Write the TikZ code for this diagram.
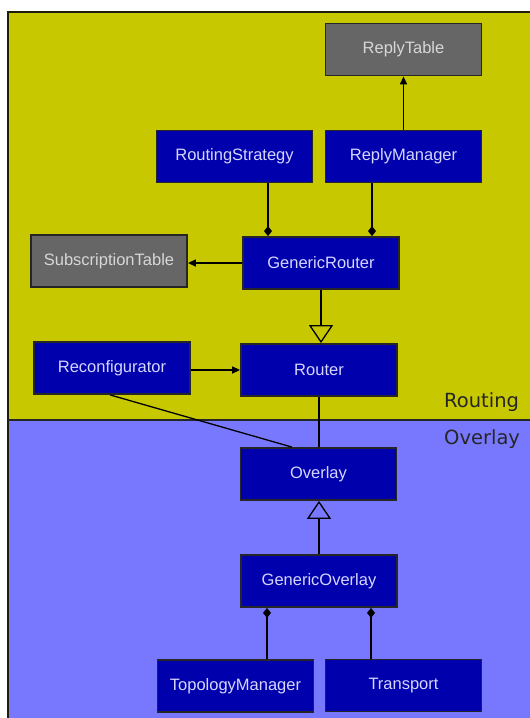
\documentclass[tikz,border=0pt]{standalone}
\usepackage{fontspec}
\setmainfont{Liberation Sans}
\newfontfamily\layerfont{DejaVu Sans}
\usetikzlibrary{arrows.meta}

\definecolor{routingbg}{RGB}{200,200,0}
\definecolor{overlaybg}{RGB}{120,120,255}
\definecolor{classblue}{RGB}{0,0,172}
\definecolor{classgray}{RGB}{102,102,102}
\definecolor{classtext}{RGB}{214,214,255}
\definecolor{graytext}{RGB}{215,215,215}
\definecolor{framedark}{RGB}{30,30,10}

\tikzset{
  classbox/.style={draw=black!85, line width=1.8pt, fill=classblue,
    minimum width=156pt, minimum height=52pt, inner sep=0pt,
    text=classtext, font=\fontsize{16.5}{18}\selectfont},
  tablebox/.style={classbox, fill=classgray, text=graytext},
  link/.style={line width=1.3pt, draw=black},
  uses/.style={link, -{Triangle[length=8pt,width=7pt]}},
  owns/.style={link, -{Diamond[length=10pt,width=8pt]}},
  inherits/.style={link, -{Triangle[open, length=18pt, width=24pt, line width=1.3pt]}},
  layerlabel/.style={font=\layerfont\fontsize{19.5}{21}\selectfont, text=black!85, anchor=west, inner sep=0pt}
}

\begin{document}
\begin{tikzpicture}[x=1pt, y=-1pt]
  \useasboundingbox (0,0) rectangle (530,718);

  % layer backgrounds
  \fill[routingbg] (8,12) rectangle (545,420);
  \fill[overlaybg] (8,420) rectangle (545,725);
  \draw[framedark, line width=2pt] (545,12) -- (8,12) -- (8,725);
  \draw[black!85, line width=1.5pt] (8,420) -- (545,420);

  \node[layerlabel] (routinglbl) at (444,402) {Routing};
  \node[layerlabel] (overlaylbl) at (444,439) {Overlay};

  % classes of the routing layer
  \node[tablebox] (replytable)  at (403.5,49.5) {ReplyTable};
  \node[classbox] (strategy)    at (234.5,156.5) {RoutingStrategy};
  \node[classbox] (replymgr)    at (403.5,156.5) {ReplyManager};
  \node[tablebox] (subtable)    at (109,261) {SubscriptionTable};
  \node[classbox] (genrouter)   at (321,263) {GenericRouter};
  \node[classbox] (reconf)      at (112,368) {Reconfigurator};
  \node[classbox] (router)      at (319,370) {Router};

  % classes of the overlay layer
  \node[classbox] (overlay)     at (318.5,474) {Overlay};
  \node[classbox] (genoverlay)  at (319,581) {GenericOverlay};
  \node[classbox] (topology)    at (235.5,686) {TopologyManager};
  \node[classbox] (transport)   at (403.5,685.5) {Transport};

  % associations
  \draw[uses] (replymgr.north) -- (replytable.south);
  \draw[owns] ([xshift=33.5pt]strategy.south) -- ([xshift=33.5pt]strategy.south |- genrouter.north);
  \draw[owns] ([xshift=-31.5pt]replymgr.south) -- ([xshift=-31.5pt]replymgr.south |- genrouter.north);
  \draw[uses] (genrouter.west) -- (genrouter.west -| subtable.east);
  \draw[inherits] (genrouter.south) -- (genrouter.south |- router.north);
  \draw[uses] ([yshift=-2pt]reconf.east) -- ([yshift=-2pt]reconf.east -| router.west);
  \draw[link] ([xshift=-2pt]reconf.south) -- ([xshift=-26.5pt]overlay.north);
  \draw[link] (router.south) -- (router.south |- overlay.north);
  \draw[inherits] (genoverlay.north) -- (genoverlay.north |- overlay.south);
  \draw[owns] ([xshift=31.5pt]topology.north) -- ([xshift=31.5pt]topology.north |- genoverlay.south);
  \draw[owns] ([xshift=-32.5pt]transport.north) -- ([xshift=-32.5pt]transport.north |- genoverlay.south);
\end{tikzpicture}
\end{document}
